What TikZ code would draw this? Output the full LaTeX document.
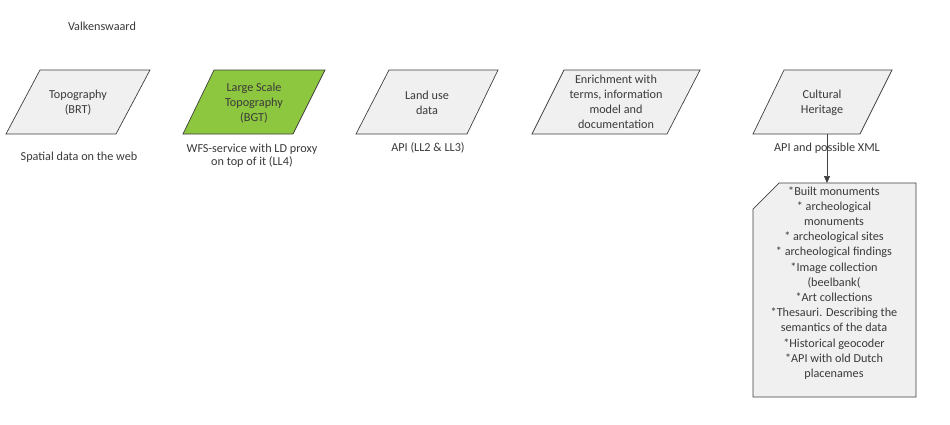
\documentclass[tikz,border=0pt]{standalone}
\usepackage{fontspec}
\setmainfont{Carlito}
\usetikzlibrary{arrows.meta}
\definecolor{edgegray}{HTML}{404040}
\definecolor{textgray}{HTML}{3A3A3A}
\definecolor{boxgray}{HTML}{F0F0F0}
\definecolor{bgtgreen}{HTML}{8DC63F}
\begin{document}
\begin{tikzpicture}[x=1pt,y=-1pt,
  para/.style={draw=edgegray, line width=0.7pt, fill=boxgray},
  txt/.style={align=center, font=\fontsize{12.2}{15.2}\selectfont, text=textgray, inner sep=0pt},
  lbl/.style={align=center, font=\fontsize{12.2}{13}\selectfont, text=textgray, inner sep=0pt},
  conn/.style={draw=edgegray, line width=0.7pt, -{Triangle[length=7pt,width=6pt]}}
]
\useasboundingbox (0,0) rectangle (950,424);
\fill[white] (0,0) rectangle (950,424);

\node[lbl] (title) at (102,26) {Valkenswaard};

% shape 1
\draw[para] (40,70) -- (150,70) -- (116,134) -- (6,134) -- cycle;
\node[txt] (brt) at (78,103) {Topography\\(BRT)};
\node[lbl] (brtlbl) at (79,157) {Spatial data on the web};

% shape 2
\draw[para, fill=bgtgreen] (214,70) -- (325,70) -- (293,134) -- (183,134) -- cycle;
\node[txt] (bgt) at (254,103) {Large Scale\\Topography\\(BGT)};
\node[lbl] (bgtlbl) at (252,156) {WFS-service with LD proxy\\on top of it (LL4)};

% shape 3
\draw[para] (389,70) -- (498,70) -- (467,134) -- (356,134) -- cycle;
\node[txt] (landuse) at (427,103) {Land use\\data};
\node[lbl] (landlbl) at (428,148) {API (LL2 \& LL3)};

% shape 4
\draw[para] (564,70) -- (700,70) -- (667,134) -- (532,134) -- cycle;
\node[txt] (enrich) at (616,102) {Enrichment with\\terms, information\\model and\\documentation};

% shape 5
\draw[para] (784,70) -- (892,70) -- (860,134) -- (753,134) -- cycle;
\node[txt] (heritage) at (822,103) {Cultural\\Heritage};
\coordinate (herbottom) at (827,134);

% note box
\draw[para] (779,183) -- (916,183) -- (916,397) -- (753,397) -- (753,209) -- cycle;
\coordinate (notetop) at (827,183);
\node[txt] (notes) at (834,283) {*Built monuments\\* archeological\\monuments\\* archeological sites\\* archeological findings\\*Image collection\\(beelbank(\\*Art collections\\*Thesauri. Describing the\\semantics of the data\\*Historical geocoder\\*API with old Dutch\\placenames};

\node[lbl] (herlbl) at (827,148) {API and possible XML};

\draw[conn] (herbottom) -- (notetop);
\end{tikzpicture}
\end{document}
